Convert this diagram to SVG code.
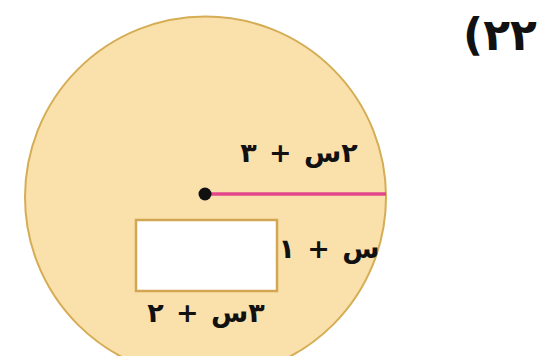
<svg xmlns="http://www.w3.org/2000/svg" width="540" height="356" viewBox="0 0 540 356">
<style>
.lbl{font-family:"DejaVu Sans",sans-serif;font-weight:bold;fill:#111;word-spacing:3px;}
</style>
<rect width="540" height="356" fill="#ffffff"/>
<g id="circle">
<circle cx="205.5" cy="197" r="180.5" fill="#fae1ac" stroke="#d5ad55" stroke-width="2"/>
</g>
<g id="rectangle">
<rect x="136" y="220" width="141" height="71" fill="#ffffff" stroke="#d3a652" stroke-width="2.5"/>
</g>
<g id="connectors">
<line x1="205" y1="194" x2="386" y2="194" stroke="#e2478b" stroke-width="3.5"/>
</g>
<g id="center">
<circle cx="205" cy="194" r="6.5" fill="#111"/>
</g>
<g id="labels">
<text class="lbl" x="299" y="162" font-size="27" text-anchor="middle" direction="rtl">٢س + ٣</text>
<text class="lbl" x="329" y="258" font-size="27" text-anchor="middle" direction="rtl">س + ١</text>
<text class="lbl" x="206" y="322" font-size="27" text-anchor="middle" direction="rtl">٣س + ٢</text>
<text class="lbl" x="500" y="50" font-size="44" text-anchor="middle" direction="rtl">٢٢)</text>
</g>
</svg>
